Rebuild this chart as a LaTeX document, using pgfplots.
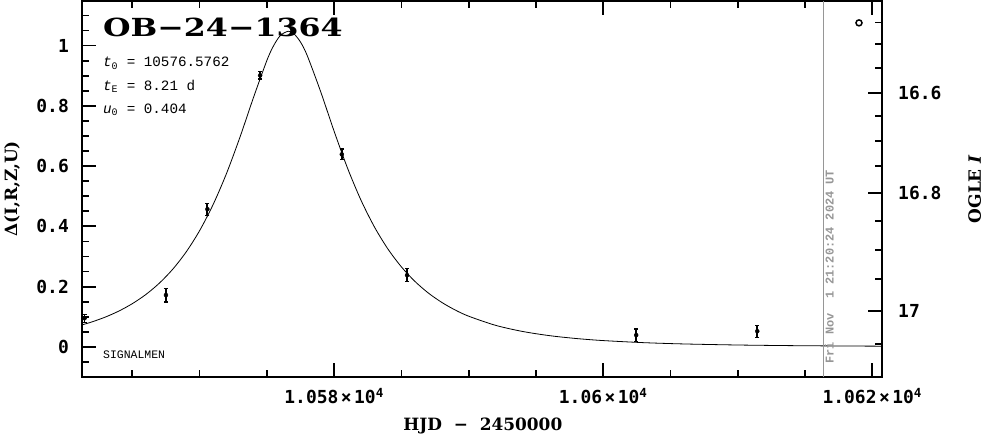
\documentclass[border=0pt]{standalone}
\usepackage{fontspec}
\usepackage{pgfplots}
\pgfplotsset{compat=1.18}
\setmainfont{DejaVu Serif}
\newfontfamily\tickfont{DejaVu Sans Mono}
\newfontfamily\monofont{Liberation Mono}
\definecolor{stampgray}{RGB}{150,150,150}
\newcommand{\tx}{\kern2.5bp×\kern2.5bp}

\pgfplotstableread{
x y
10561.26 0.0729
10562 0.0829
10563 0.0990
10564 0.1189
10565 0.1434
10566 0.1736
10567 0.2111
10568 0.2575
10569 0.3149
10570 0.3856
10571 0.4719
10572 0.5755
10573 0.6959
10574 0.8269
10575 0.9505
10575.5 0.9995
10576 1.0332
10576.58 1.0475
10577 1.0397
10577.5 1.0116
10578 0.9668
10579 0.8469
10580 0.7155
10581 0.5928
10582 0.4865
10583 0.3977
10584 0.3247
10585 0.2655
10586 0.2175
10587 0.1788
10588 0.1476
10589 0.1223
10590 0.1018
10592 0.0715
10594 0.0512
10596 0.0373
10598 0.0277
10600 0.0209
10603 0.0140
10606 0.0097
10610 0.0062
10614 0.0041
10618 0.0029
10620.72 0.0023
}\modeltab

\pgfplotstableread{
x y e
10561.45 0.095 0.013
10567.5 0.172 0.023
10570.58 0.457 0.020
10574.5 0.901 0.012
10580.57 0.639 0.018
10585.42 0.238 0.021
10602.45 0.039 0.020
10611.45 0.052 0.020
}\datatab

\begin{document}
\begin{tikzpicture}
\useasboundingbox (-82bp,-57bp) rectangle (904bp,377bp);
\begin{axis}[
  scale only axis, width=800bp, height=376bp,
  xmin=10561.26, xmax=10620.72, ymin=-0.1, ymax=1.148,
  clip mode=individual,
  scaled x ticks=false, scaled y ticks=false,
  axis line style={line width=1.8bp},
  tick align=inside,
  major tick length=14bp, minor tick length=7bp,
  every tick/.append style={line width=1.8bp, black},
  xtick={10580,10600,10620},
  xticklabels={1.058\tx10\textsuperscript{4},1.06\tx10\textsuperscript{4},1.062\tx10\textsuperscript{4}},
  minor xtick={10565,10570,10575,10585,10590,10595,10605,10610,10615},
  xtick pos=both,
  ytick={0,0.2,0.4,0.6,0.8,1},
  yticklabels={0,0.2,0.4,0.6,0.8,1},
  minor ytick={-0.05,0.05,0.1,0.15,0.25,0.3,0.35,0.45,0.5,0.55,0.65,0.7,0.75,0.85,0.9,0.95,1.05,1.1},
  ytick pos=left,
  ticklabel style={font=\tickfont\bfseries\fontsize{18}{20}\selectfont, inner sep=0pt},
  yticklabel style={xshift=-13bp},
  xticklabel style={yshift=-11bp},
  xlabel={HJD\ \ −\ \ 2450000},
  ylabel={Δ(I,R,Z,U)},
  label style={font=\bfseries\fontsize{17}{20}\selectfont},
  xlabel style={at={(rel axis cs:0.501,-0.141)}, anchor=base, inner sep=0pt},
  ylabel style={at={(rel axis cs:-0.0875,0.5)}, anchor=center, inner sep=0pt},
]
\addplot[black, line width=0.8bp, smooth] table[x=x, y=y] {\modeltab};
\addplot[black, only marks, mark=none,
  error bars/.cd, y dir=both, y explicit,
  error bar style={draw=black, line width=1.8bp},
  error mark options={draw=black, mark size=2bp, line width=1.2bp, rotate=90}]
  table[x=x, y=y, y error=e] {\datatab};
\addplot[black, only marks, mark=o, mark size=3bp, line width=1.5bp] coordinates {(10619.01,1.0754)};
\addplot[stampgray, line width=1.2bp] coordinates {(10616.36,-0.1) (10616.36,1.148)};
\node[rotate=90, anchor=north west, inner sep=1.5bp, text=stampgray,
  font=\monofont\bfseries\fontsize{12}{14}\selectfont] at (axis cs:10616.36,-0.061) {Fri Nov~~1 21:20:24 2024 UT};
\node[anchor=base west, inner sep=0pt] at (rel axis cs:0.02625,0.9069)
  {\scalebox{1.27}[1]{\fontsize{25}{30}\selectfont\bfseries OB−24−1364}};
\node[anchor=base west, inner sep=0pt, font=\monofont\fontsize{14.3}{16}\selectfont] at (rel axis cs:0.02625,0.8245) {\textit{t}\textsubscript{0} = 10576.5762};
\node[anchor=base west, inner sep=0pt, font=\monofont\fontsize{14.3}{16}\selectfont] at (rel axis cs:0.02625,0.762) {\textit{t}\textsubscript{E} = 8.21 d};
\node[anchor=base west, inner sep=0pt, font=\monofont\fontsize{14.3}{16}\selectfont] at (rel axis cs:0.02625,0.702) {\textit{u}\textsubscript{0} = 0.404};
\node[anchor=base west, inner sep=0pt, font=\monofont\fontsize{11.5}{13}\selectfont] at (rel axis cs:0.02625,0.0505) {SIGNALMEN};
\end{axis}
\begin{axis}[
  scale only axis, width=800bp, height=376bp,
  xmin=10561.26, xmax=10620.72, ymin=-0.1, ymax=1.148,
  axis x line=none, axis y line*=right,
  y axis line style={line width=1.8bp, -},
  tick align=inside,
  major tick length=14bp, minor tick length=7bp,
  every tick/.append style={line width=1.8bp, black},
  ytick={0.8438,0.5116,0.1186},
  yticklabels={16.6,16.8,17},
  minor ytick={1.0764,1.0046,0.9249,0.7674,0.6844,0.6000,0.4186,0.3213,0.2240,0.0090},
  ticklabel style={font=\tickfont\bfseries\fontsize{18}{20}\selectfont, inner sep=0pt},
  yticklabel style={anchor=west, xshift=16bp},
  ylabel={OGLE \textit{I}},
  label style={font=\bfseries\fontsize{17}{20}\selectfont},
  ylabel style={at={(rel axis cs:1.116,0.5)}, anchor=center, inner sep=0pt},
]
\end{axis}
\end{tikzpicture}
\end{document}
